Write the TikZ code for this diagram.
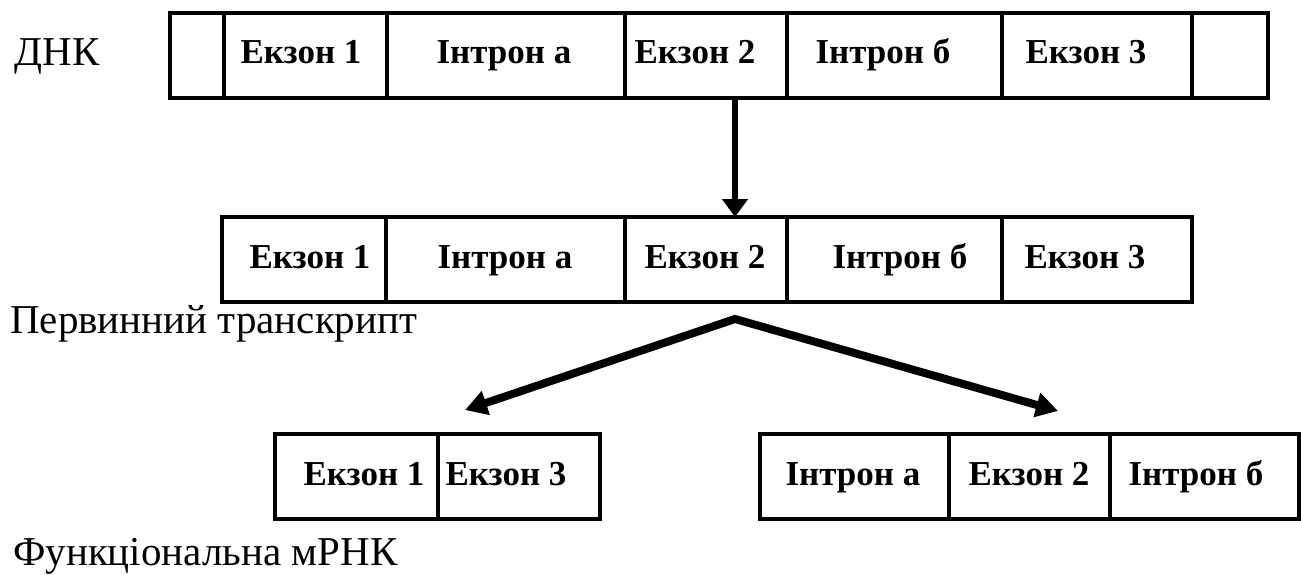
\documentclass[tikz,border=0pt]{standalone}
\usepackage{fontspec}
\setmainfont{Liberation Serif}
\usetikzlibrary{arrows.meta,calc}
\begin{document}
\begin{tikzpicture}[x=1pt,y=-1pt,
  cell/.style={draw, line width=4.5pt, minimum height=85pt, inner sep=0pt, outer sep=0pt, anchor=north west},
  lbl/.style={font=\bfseries\fontsize{35}{35}\selectfont, text height=23pt, text depth=0pt, inner sep=0pt},
  plain/.style={font=\fontsize{41}{41}\selectfont, inner sep=0pt, anchor=base west},
  arr/.style={line width=5.5pt, -{Triangle[width=25pt,length=18pt]}},
  sarr/.style={line width=8pt, line join=miter, {Triangle[width=24pt,length=22pt]}-{Triangle[width=24pt,length=22pt]}}]
\useasboundingbox (0,0) rectangle (1301,575);
% labels outside
\node[font=\fontsize{41}{41}\selectfont, text height=28pt, text depth=0pt, inner sep=0pt] (dnk) at (57,52) {ДНК};
% DNA row
\node[cell, minimum width=54pt]  (d0) at (170,13) {};
\node[cell, minimum width=163pt] (d1) at (224,13) {};
\node[cell, minimum width=238pt] (d2) at (387,13) {};
\node[cell, minimum width=162pt] (d3) at (625,13) {};
\node[cell, minimum width=215pt] (d4) at (787,13) {};
\node[cell, minimum width=190pt] (d5) at (1002,13) {};
\node[cell, minimum width=76pt]  (d6) at (1192,13) {};
\node[lbl] (td1) at (301,52) {Екзон 1};
\node[lbl] (td2) at (504,52) {Інтрон а};
\node[lbl] (td3) at (695,52) {Екзон 2};
\node[lbl] (td4) at (883,52) {Інтрон б};
\node[lbl] (td5) at (1086,52) {Екзон 3};
% primary transcript row
\node[cell, minimum width=164pt] (p1) at (222,217) {};
\node[cell, minimum width=239pt] (p2) at (386,217) {};
\node[cell, minimum width=162pt] (p3) at (625,217) {};
\node[cell, minimum width=215pt] (p4) at (787,217) {};
\node[cell, minimum width=190pt] (p5) at (1002,217) {};
\node[lbl] (tp1) at (310,257) {Екзон 1};
\node[lbl] (tp2) at (505,257) {Інтрон а};
\node[lbl] (tp3) at (705,257) {Екзон 2};
\node[lbl] (tp4) at (900,257) {Інтрон б};
\node[lbl] (tp5) at (1085,257) {Екзон 3};
\node[plain] (ptxt) at (10,333) {Первинний транскрипт};
% bottom left row
\node[cell, minimum width=163pt] (l1) at (275,434) {};
\node[cell, minimum width=162pt] (l2) at (438,434) {};
\node[lbl] (tl1) at (364,474) {Екзон 1};
\node[lbl] (tl2) at (506,474) {Екзон 3};
% bottom right row
\node[cell, minimum width=189pt] (r1) at (760,434) {};
\node[cell, minimum width=161pt] (r2) at (949,434) {};
\node[cell, minimum width=189pt] (r3) at (1110,434) {};
\node[lbl] (tr1) at (853,474) {Інтрон а};
\node[lbl] (tr2) at (1029,474) {Екзон 2};
\node[lbl] (tr3) at (1196,474) {Інтрон б};
\node[plain] (ftxt) at (13,565) {Функціональна мРНК};
% arrows
\draw[arr] ($(d3.south west)!0.679!(d3.south east)$) -- ($(p3.north west)!0.679!(p3.north east)$);
\coordinate (apex) at ($(p3.south west)!0.679!(p3.south east)+(0,17)$);
\coordinate (tipL) at (465,410);
\coordinate (tipR) at (1058,411);
\draw[sarr] (tipL) -- (apex) -- (tipR);
\end{tikzpicture}
\end{document}
